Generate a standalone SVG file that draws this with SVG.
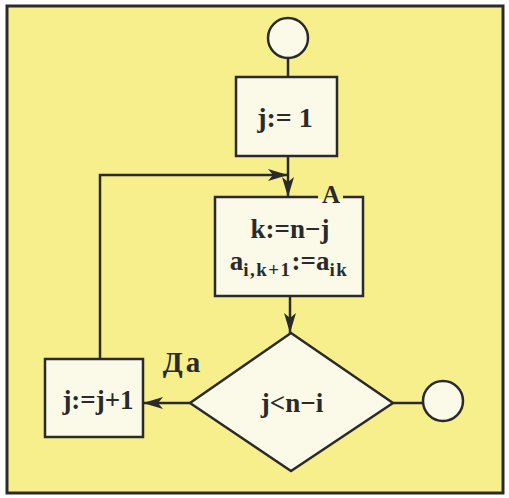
<svg xmlns="http://www.w3.org/2000/svg" width="509" height="498" viewBox="0 0 509 498">
<defs>
<style>
.bg{fill:#f6ef8c;stroke:#2a2a2a;stroke-width:3}
.n{fill:#fbf9e8;stroke:#2a2a2a;stroke-width:2.5}
.c{fill:none;stroke:#2a2a2a;stroke-width:2.5}
.t{font-family:'Liberation Serif',serif;font-weight:bold;fill:#2a2a2a;text-anchor:middle}
.s{font-size:19px;letter-spacing:1.5px}
</style>
<marker id="ah" viewBox="0 0 20 12" refX="20" refY="6" markerWidth="20" markerHeight="12" markerUnits="userSpaceOnUse" orient="auto">
<path d="M0,0 L20,6 L0,12 L5,6 Z" fill="#2a2a2a"/>
</marker>
</defs>
<rect class="bg" x="7" y="6" width="496" height="487"/>
<g id="connectors">
<line class="c" x1="288" y1="58" x2="288" y2="77"/>
<line class="c" x1="288" y1="156" x2="288" y2="197" marker-end="url(#ah)"/>
<polyline class="c" points="100,358 100,175 288,175" marker-end="url(#ah)"/>
<line class="c" x1="290" y1="296" x2="290" y2="333" marker-end="url(#ah)"/>
<line class="c" x1="190" y1="403" x2="143" y2="403" marker-end="url(#ah)"/>
<line class="c" x1="393" y1="403" x2="423" y2="403"/>
<text class="t" x="183" y="372" font-size="29" letter-spacing="3">Да</text>
</g>
<g id="start">
<circle class="n" cx="288" cy="38" r="20"/>
</g>
<g id="init">
<rect class="n" x="236" y="77" width="101" height="79"/>
<text class="t" x="285" y="127" font-size="28">j:= 1</text>
</g>
<g id="blockA">
<rect class="n" x="215" y="197" width="148" height="99"/>
<line x1="318" y1="197" x2="343" y2="197" stroke="#f6ef8c" stroke-width="4"/>
<text class="t" x="331" y="203" font-size="25">A</text>
<text class="t" x="290" y="238" font-size="27">k:=n−j</text>
<text class="t" x="289" y="270" font-size="27">a<tspan class="s" dy="6">i,k+1</tspan><tspan dy="-6">:=a</tspan><tspan class="s" dy="6">ik</tspan></text>
</g>
<g id="cond">
<polygon class="n" points="291,333 393,403 291,471 190,403"/>
<text class="t" x="292" y="412" font-size="27">j&lt;n−i</text>
</g>
<g id="end">
<circle class="n" cx="443" cy="401" r="20"/>
</g>
<g id="inc">
<rect class="n" x="45" y="359" width="98" height="78"/>
<text class="t" x="98" y="409" font-size="27">j:=j+1</text>
</g>
</svg>
